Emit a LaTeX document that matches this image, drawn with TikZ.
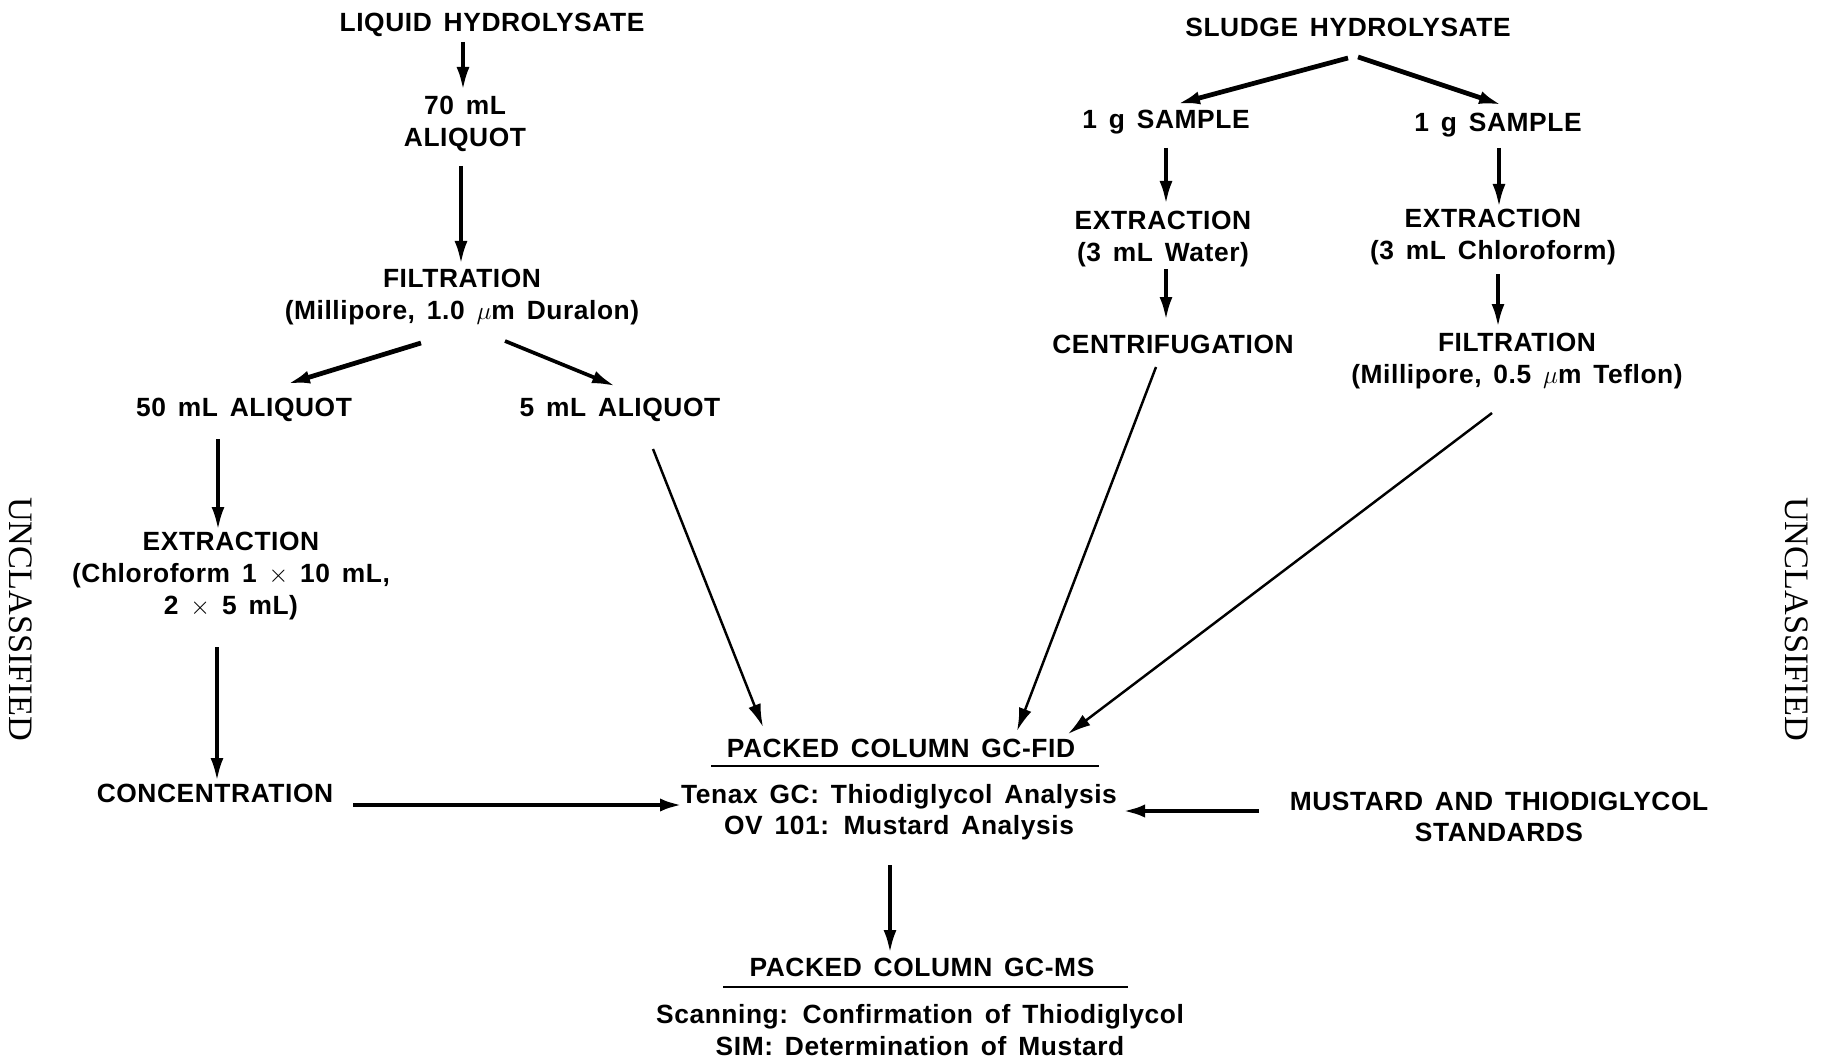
\documentclass[tikz,border=0pt]{standalone}
\usepackage{fontspec}
\setmainfont{Liberation Sans}[LetterSpace=2.2, WordSpace=1.5]
\newfontfamily\stampfont{Liberation Serif}
\usepackage{tikz}
\usetikzlibrary{positioning,calc,arrows.meta}

\begin{document}
\begin{tikzpicture}[x=0.2mm, y=-0.2mm, every node/.style={font=\fontsize{15}{18}\selectfont\bfseries, inner sep=0pt, align=center}]
  % Styles
  \tikzstyle{flow}=[-{Latex[length=4.6mm,width=2.6mm]}, line width=2.1pt]
  \tikzstyle{heavy flow}=[flow, line width=2.7pt]
  \tikzstyle{long flow}=[flow, line width=1.4pt]
  \tikzstyle{rule}=[line width=1.4pt]
  \tikzstyle{stamp}=[font=\stampfont\fontsize{19.5}{22}\selectfont, rotate=-90]

  \useasboundingbox (0,0) rectangle (1824,1061);

  % Liquid branch
  \node (liq) at (492,25) {LIQUID HYDROLYSATE};
  \node (ali70) at (465,124) {70 mL\\ALIQUOT};
  \node (filt1) at (462,297) {FILTRATION\\(Millipore, 1.0 $\mu$m Duralon)};
  \node (a50) at (244,410) {50 mL ALIQUOT};
  \node (a5) at (620,410) {5 mL ALIQUOT};
  \node (ext1) at (231,576) {EXTRACTION\\(Chloroform 1 $\times$ 10 mL,\\2 $\times$ 5 mL)};
  \node (conc) at (215,793) {CONCENTRATION};

  % Sludge branch
  \node (sludge) at (1348,27) {SLUDGE HYDROLYSATE};
  \node (s1) at (1166,122) {1 g SAMPLE};
  \node (s2) at (1498,125) {1 g SAMPLE};
  \node (e1) at (1163,239) {EXTRACTION\\(3 mL Water)};
  \node (e2) at (1493,237) {EXTRACTION\\(3 mL Chloroform)};
  \node (cen) at (1173,344) {CENTRIFUGATION};
  \node (filt2) at (1517,361) {FILTRATION\\(Millipore, 0.5 $\mu$m Teflon)};

  % GC stages
  \node (fid) at (901,748) {PACKED COLUMN GC-FID};
  \node (fidtxt) at (899,812) {Tenax GC: Thiodiglycol Analysis\\OV 101: Mustard Analysis};
  \node (std) at (1499,817) {MUSTARD AND THIODIGLYCOL\\STANDARDS};
  \node (ms) at (922,967) {PACKED COLUMN GC-MS};
  \node (scan) at (920,1030) {Scanning: Confirmation of Thiodiglycol\\SIM: Determination of Mustard};

  % Margin stamps
  \node[stamp] (stampL) at (21,619) {UNCLASSIFIED};
  \node[stamp] (stampR) at (1797,619) {UNCLASSIFIED};

  % Underlines
  \draw[rule] ($(fid)+(-190,18)$) -- ($(fid)+(198,18)$);
  \draw[rule] ($(ms)+(-199,20)$) -- ($(ms)+(206,20)$);

  % Arrows, liquid branch
  \draw[flow] ($(liq)+(-29,17)$) -- ($(ali70)+(-2,-34)$);
  \draw[flow] ($(ali70)+(-4,42)$) -- ($(filt1)+(-1,-33)$);
  \draw[heavy flow] ($(filt1)+(-41,46)$) -- ($(a50)+(43,-26)$);
  \draw[flow] ($(filt1)+(43,44)$) -- ($(a5)+(-5,-24)$);
  \draw[flow] ($(a50)+(-26,29)$) -- ($(ext1)+(-13,-46)$);
  \draw[flow] ($(ext1)+(-14,71)$) -- ($(conc)+(2,-12)$);
  \draw[heavy flow] ($(conc)+(138,12)$) -- ($(fidtxt)+(-216,-7)$);
  \draw[long flow] ($(a5)+(33,39)$) -- ($(fid)+(-138,-21)$);

  % Arrows, sludge branch
  \draw[heavy flow] ($(sludge)+(0,31)$) -- ($(s1)+(11,-18)$);
  \draw[heavy flow] ($(sludge)+(10,30)$) -- ($(s2)+(4,-20)$);
  \draw[flow] ($(s1)+(0,26)$) -- ($(e1)+(3,-35)$);
  \draw[flow] ($(s2)+(1,23)$) -- ($(e2)+(6,-30)$);
  \draw[flow] ($(e1)+(3,30)$) -- ($(cen)+(-7,-24)$);
  \draw[flow] ($(e2)+(5,37)$) -- ($(filt2)+(-19,-34)$);
  \draw[long flow] ($(cen)+(-17,23)$) -- ($(fid)+(116,-17)$);
  \draw[long flow] ($(filt2)+(-25,52)$) -- ($(fid)+(167,-14)$);

  % Standards and GC-MS
  \draw[heavy flow] ($(std)+(-240,-6)$) -- ($(fidtxt)+(223,-1)$);
  \draw[flow] ($(fidtxt)+(-9,53)$) -- ($(ms)+(-32,-14)$);
\end{tikzpicture}
\end{document}
